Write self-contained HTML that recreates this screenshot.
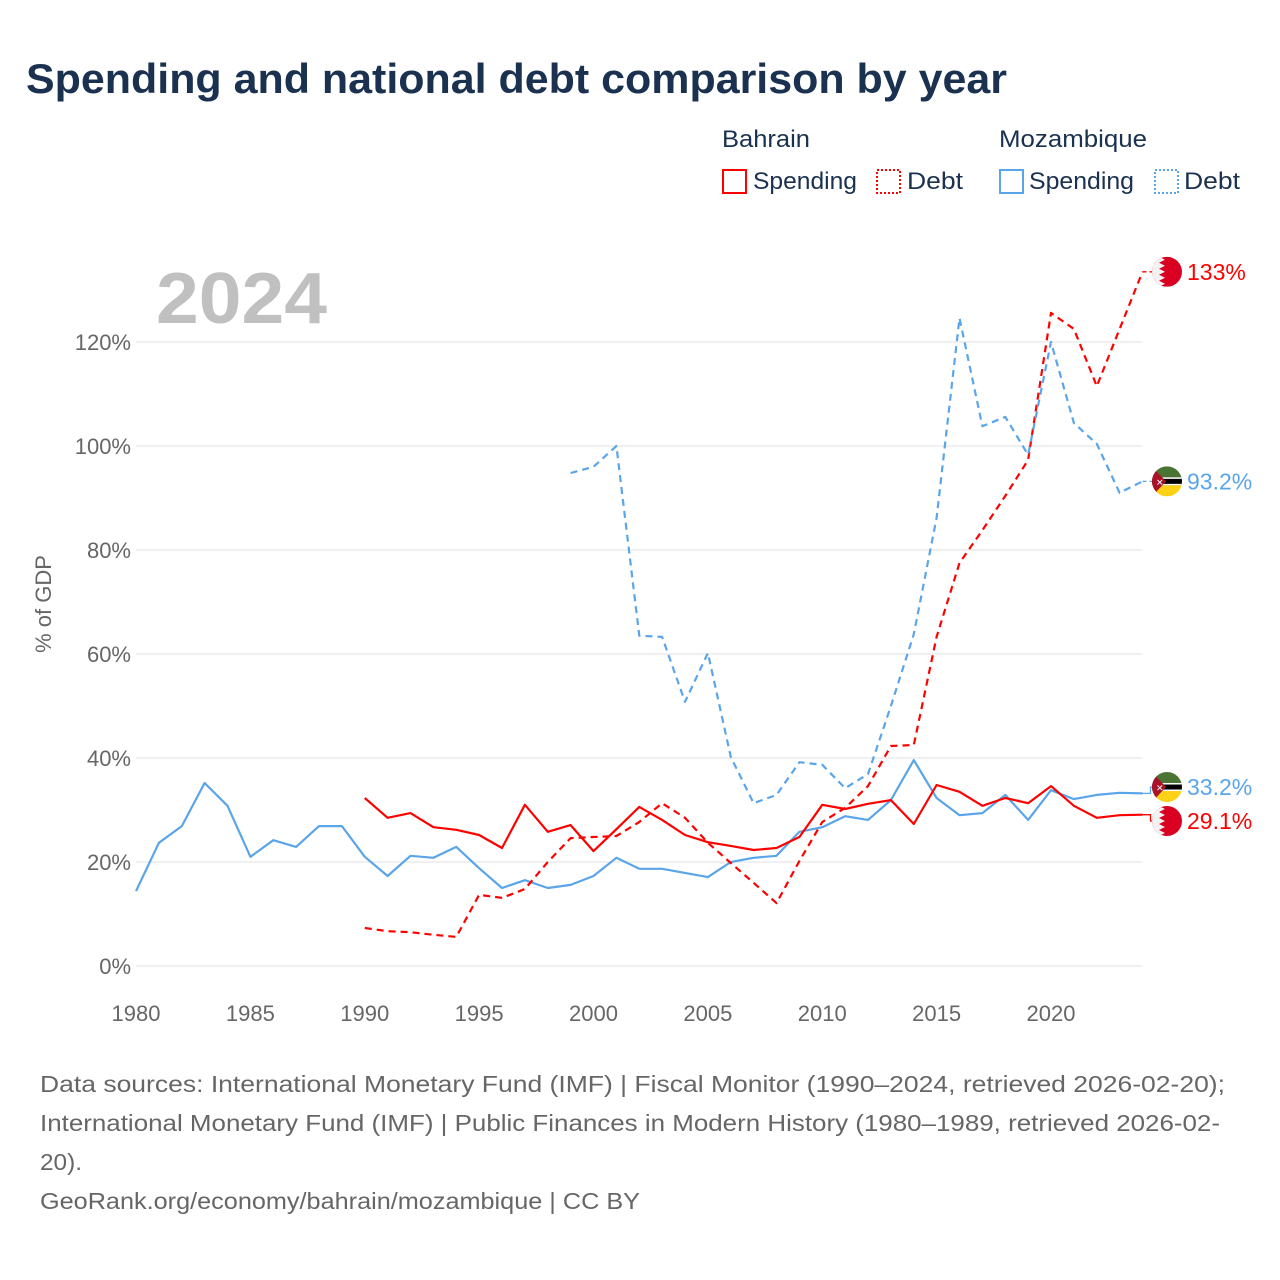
<!DOCTYPE html>
<html><head><meta charset="utf-8"><style>
body{margin:0;background:#fff;font-family:"Liberation Sans",sans-serif;}
#wrap{position:relative;width:1280px;height:1280px;overflow:hidden;}
</style></head><body>
<div id="wrap">
<svg id="svg" width="1280" height="1280" xmlns="http://www.w3.org/2000/svg">
<text x="26" y="93" font-size="42" font-weight="bold" fill="#1a3150" textLength="981" lengthAdjust="spacingAndGlyphs">Spending and national debt comparison by year</text>
<g font-size="24" fill="#1a3150">
<text x="722" y="147" textLength="88" lengthAdjust="spacingAndGlyphs">Bahrain</text>
<rect x="723" y="170" width="23" height="23" fill="none" stroke="#f00" stroke-width="2"/>
<text x="753" y="189" textLength="104" lengthAdjust="spacingAndGlyphs">Spending</text>
<rect x="877" y="170" width="23" height="23" fill="none" stroke="#f00" stroke-width="2" stroke-dasharray="2,2"/>
<text x="907" y="189" textLength="56" lengthAdjust="spacingAndGlyphs">Debt</text>
<text x="999" y="147" textLength="148" lengthAdjust="spacingAndGlyphs">Mozambique</text>
<rect x="1000" y="170" width="23" height="23" fill="none" stroke="#5aa5ea" stroke-width="2"/>
<text x="1029" y="189" textLength="105" lengthAdjust="spacingAndGlyphs">Spending</text>
<rect x="1155" y="170" width="23" height="23" fill="none" stroke="#5aa5ea" stroke-width="2" stroke-dasharray="2,2"/>
<text x="1184" y="189" textLength="56" lengthAdjust="spacingAndGlyphs">Debt</text>
</g>
<text x="156" y="323" font-size="72" font-weight="bold" fill="#c0c0c0" textLength="171" lengthAdjust="spacingAndGlyphs">2024</text>
<text transform="translate(51,604) rotate(-90)" text-anchor="middle" font-size="22" fill="#666">% of GDP</text>
<g id="grid"></g><g id="series"></g><g id="ends"></g>
<g font-size="23" fill="#666">
<text x="40" y="1092" textLength="1185" lengthAdjust="spacingAndGlyphs">Data sources: International Monetary Fund (IMF) | Fiscal Monitor (1990–2024, retrieved 2026-02-20);</text>
<text x="40" y="1131" textLength="1180" lengthAdjust="spacingAndGlyphs">International Monetary Fund (IMF) | Public Finances in Modern History (1980–1989, retrieved 2026-02-</text>
<text x="40" y="1170" textLength="42" lengthAdjust="spacingAndGlyphs">20).</text>
<text x="40" y="1209" textLength="600" lengthAdjust="spacingAndGlyphs">GeoRank.org/economy/bahrain/mozambique | CC BY</text>
</g>
</svg></div>
<script>
const yTicks=[0,20,40,60,80,100,120];
const xTicks=[1980,1985,1990,1995,2000,2005,2010,2015,2020];
const mozSpendStart=1980;
const mozSpend=[14.4,23.7,26.9,35.2,30.8,21.0,24.2,22.9,26.9,26.9,21.0,17.3,21.2,20.8,22.9,18.8,15.0,16.5,15.0,15.6,17.3,20.8,18.7,18.7,17.9,17.1,20.0,20.8,21.2,25.8,26.7,28.8,28.1,31.9,39.6,32.3,29.0,29.4,32.9,28.1,33.8,32.1,32.9,33.3,33.2];
const bhrSpendStart=1990;
const bhrSpend=[32.3,28.5,29.4,26.7,26.2,25.2,22.7,31.0,25.8,27.1,22.1,26.3,30.6,28.1,25.2,23.8,23.1,22.3,22.7,24.8,31.0,30.2,31.2,31.9,27.3,34.8,33.5,30.8,32.3,31.3,34.6,30.8,28.5,29.0,29.1];
const bhrDebtStart=1990;
const bhrDebt=[7.3,6.7,6.5,6.0,5.6,13.7,13.1,14.8,20.0,24.6,24.8,25.0,27.7,31.3,28.5,23.7,19.8,16.0,12.1,20.2,27.7,30.4,34.6,42.3,42.5,63.3,77.5,83.8,90.4,97.3,125.6,122.5,111.5,122.5,133.5];
const mozDebtStart=1999;
const mozDebt=[94.8,96.0,100,63.5,63.3,50.8,60.2,40.2,31.3,32.9,39.2,38.7,34.2,36.9,50.0,63.8,86.2,124.6,103.8,105.6,98.3,120,104.4,100.4,91.0,93.2];
const endLabels=["133%","93.2%","33.2%","29.1%"];

const NS="http://www.w3.org/2000/svg";
const X=y=>136+(y-1980)*22.875;
const Y=v=>966-v*5.2;
const XEND=X(2024);
function mk(t,a,p){const e=document.createElementNS(NS,t);for(const k in a)e.setAttribute(k,a[k]);p.appendChild(e);return e;}
const grid=document.getElementById('grid');
yTicks.forEach(t=>{
  const l=mk('line',{x1:136,x2:XEND,y1:Y(t),y2:Y(t),stroke:'#ececec','stroke-width':1.5},grid);
  
  
  const tx=mk('text',{x:131,y:Y(t)+8,'text-anchor':'end','font-size':22,fill:'#666'},grid);
  tx.textContent=t+'%';
  
  
});
xTicks.forEach(t=>{
  const tx=mk('text',{x:X(t),y:1021,'text-anchor':'middle','font-size':22,fill:'#666'},grid);
  tx.textContent=t;
  
  
});
const ser=document.getElementById('series');
function line(vals,start,color,dash,name){
  const pts=vals.map((v,i)=>X(start+i).toFixed(1)+','+Y(v).toFixed(1)).join(' ');
  const p=mk('polyline',{points:pts,fill:'none',stroke:color,'stroke-width':2.2,'stroke-linejoin':'round'},ser);
  if(dash)p.setAttribute('stroke-dasharray','7,5');
  
  
}
line(mozSpend,mozSpendStart,'#5aa5ea',false,'mozambique-spending-line');
line(bhrSpend,bhrSpendStart,'#f00',false,'bahrain-spending-line');
line(bhrDebt,bhrDebtStart,'#f00',true,'bahrain-debt-line');
line(mozDebt,mozDebtStart,'#5aa5ea',true,'mozambique-debt-line');

const ends=document.getElementById('ends');
const lastVals=[bhrDebt[bhrDebt.length-1],mozDebt[mozDebt.length-1],mozSpend[mozSpend.length-1],bhrSpend[bhrSpend.length-1]];
const colors=['#f00','#5aa5ea','#5aa5ea','#f00'];
const flags=['bh','mz','mz','bh'];
const labY=lastVals.map(v=>Y(v));
if(labY[3]-labY[2]<34){const m=(labY[2]+labY[3])/2;labY[2]=m-17;labY[3]=m+17;}
const defs=mk('defs',{},ends);
lastVals.forEach((v,i)=>{
  const ly=labY[i],cx=1167,R=15;
  const c=mk('polyline',{points:`${XEND},${Y(v)} ${XEND+8},${Y(v)} ${XEND+8},${ly} ${cx-R},${ly}`,fill:'none',stroke:colors[i],'stroke-width':1.3},ends);
  if(i<2)c.setAttribute('stroke-dasharray','4,3');
  
  
  const cp=mk('clipPath',{id:'cp'+i},defs);
  mk('circle',{cx:cx,cy:ly,r:R},cp);
  const g=mk('g',{'clip-path':`url(#cp${i})`},ends);
  
  
  const x0=cx-R,y0=ly-R,S=2*R;
  if(flags[i]==='bh'){
    mk('rect',{x:x0,y:y0,width:S,height:S,fill:'#da0021'},g);
    let pts=`${x0},${y0} ${x0+7},${y0}`;
    const h=S/5;
    for(let k=0;k<5;k++){pts+=` ${x0+13},${y0+k*h+h/2} ${x0+7},${y0+(k+1)*h}`;}
    pts+=` ${x0},${y0+S}`;
    mk('polygon',{points:pts,fill:'#f2f2f2'},g);
  }else{
    mk('rect',{x:x0,y:y0,width:S,height:11,fill:'#4a7434'},g);
    mk('rect',{x:x0,y:y0+11,width:S,height:8,fill:'#000'},g);
    mk('rect',{x:x0,y:y0+11,width:S,height:1.5,fill:'#fff'},g);
    mk('rect',{x:x0,y:y0+17.5,width:S,height:1.5,fill:'#fff'},g);
    mk('rect',{x:x0,y:y0+19,width:S,height:11,fill:'#fcd116'},g);
    mk('polygon',{points:`${x0},${y0} ${x0+14},${y0+15} ${x0},${y0+S}`,fill:'#a8132a'},g);
    mk('text',{x:x0+4,y:y0+19,'font-size':9,fill:'#fff'},g).textContent='✕';
  }
  const t=mk('text',{x:1187,y:ly+8,'font-size':23,fill:colors[i]},ends);
  t.textContent=endLabels[i];
  
  
});
</script>
</body></html>
